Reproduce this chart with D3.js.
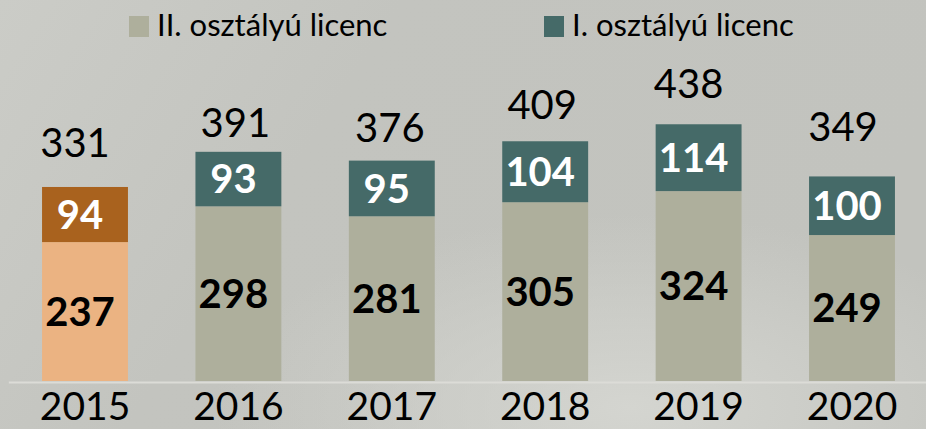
<!DOCTYPE html>
<html>
<head>
<meta charset="utf-8">
<script src="https://cdn.jsdelivr.net/npm/d3@7"></script>
<style>
  html, body { margin: 0; padding: 0; background: #c4c5c0; }
  svg { display: block; }
  text { font-family: Lato, "Open Sans", sans-serif; }
</style>
</head>
<body>
<svg id="chart" width="926" height="429"></svg>
<script>
// adatok
const years = ['2015', '2016', '2017', '2018', '2019', '2020'];
const class2 = [237, 298, 281, 305, 324, 249]; // II. osztályú licenc
const class1 = [94, 93, 95, 104, 114, 100];    // I. osztályú licenc
const totals = [331, 391, 376, 409, 438, 349];
const seriesNames = ['II. osztályú licenc', 'I. osztályú licenc'];

// a feliratok kézi eltolása (mint az eredeti diában)
const totalNudge = [[-10, 30], [-3, 15], [-2, 19], [-3, 22], [-10, 26], [-9, 35]];

const colors = { class2: '#aeaf9c', class1: '#456a68', hl2: '#ebb382', hl1: '#a9621e' };

const width = 926, height = 429;
const svg = d3.select('#chart');

// háttér
const defs = svg.append('defs');
const lin = defs.append('linearGradient').attr('id', 'bg').attr('x1', 0).attr('y1', 0).attr('x2', 1).attr('y2', 0.3);
lin.append('stop').attr('offset', '0%').attr('stop-color', '#cbccc7');
lin.append('stop').attr('offset', '40%').attr('stop-color', '#c3c4bf');
lin.append('stop').attr('offset', '100%').attr('stop-color', '#c2c3be');
const rad = defs.append('radialGradient').attr('id', 'glow')
  .attr('cx', 0.68).attr('cy', 0.95).attr('r', 0.45);
rad.append('stop').attr('offset', '0%').attr('stop-color', '#d6d7d2').attr('stop-opacity', 0.9);
rad.append('stop').attr('offset', '100%').attr('stop-color', '#d6d7d2').attr('stop-opacity', 0);
svg.append('rect').attr('width', width).attr('height', height).attr('fill', 'url(#bg)');
svg.append('rect').attr('width', width).attr('height', height).attr('fill', 'url(#glow)');

const x = d3.scaleBand().domain(years).range([8.3, 928.7]).paddingInner(0.44).paddingOuter(0.22);
const y = d3.scaleLinear().domain([0, 650]).range([381, 0]);

const rows = years.map((yr, i) => ({ year: yr, i, c2: class2[i], c1: class1[i], total: totals[i] }));

// oszlopok
const g = svg.append('g');
g.selectAll('rect.c2').data(rows).enter().append('rect')
  .attr('x', d => x(d.year))
  .attr('width', x.bandwidth())
  .attr('y', d => y(d.c2))
  .attr('height', d => y(0) - y(d.c2))
  .attr('fill', d => d.i === 0 ? colors.hl2 : colors.class2);

g.selectAll('rect.c1').data(rows).enter().append('rect')
  .attr('x', d => x(d.year))
  .attr('width', x.bandwidth())
  .attr('y', d => y(d.c2 + d.c1))
  .attr('height', d => y(d.c2) - y(d.c2 + d.c1))
  .attr('fill', d => d.i === 0 ? colors.hl1 : colors.class1);

// x tengely
const axis = svg.append('g').attr('transform', 'translate(0,382)')
  .call(d3.axisBottom(x).tickSize(0).tickSizeOuter(0));
axis.select('.domain').attr('stroke', '#dcdcd7').attr('stroke-width', 2);
axis.selectAll('text')
  .attr('y', 38).attr('dy', 0)
  .attr('font-size', 39).attr('fill', '#000')
  .style('font-family', 'Lato, sans-serif');

// szegmens feliratok
g.selectAll('text.v2').data(rows).enter().append('text')
  .attr('x', d => x(d.year) + x.bandwidth() / 2 - 5)
  .attr('y', d => (y(0) + y(d.c2)) / 2)
  .attr('dy', '0.36em')
  .attr('text-anchor', 'middle')
  .attr('font-size', 40).attr('font-weight', 'bold').attr('fill', '#000')
  .text(d => d.c2);

g.selectAll('text.v1').data(rows).enter().append('text')
  .attr('x', d => x(d.year) + x.bandwidth() / 2 - 5)
  .attr('y', d => (y(d.c2) + y(d.c2 + d.c1)) / 2)
  .attr('dy', '0.36em')
  .attr('text-anchor', 'middle')
  .attr('font-size', 40).attr('font-weight', 'bold').attr('fill', '#fff')
  .text(d => d.c1);

// összesen
g.selectAll('text.tot').data(rows).enter().append('text')
  .attr('x', d => x(d.year) + x.bandwidth() / 2 + totalNudge[d.i][0])
  .attr('y', d => y(d.c2 + d.c1) - totalNudge[d.i][1])
  .attr('text-anchor', 'middle')
  .attr('font-size', 40).attr('fill', '#000')
  .text(d => d.total);

// jelmagyarázat
const legendX = [129, 544];
const legendColors = [colors.class2, colors.class1];
const lg = svg.append('g');
seriesNames.forEach((name, i) => {
  lg.append('rect').attr('x', legendX[i]).attr('y', 16).attr('width', 20).attr('height', 21)
    .attr('fill', legendColors[i]);
  lg.append('text').attr('x', legendX[i] + 28).attr('y', 36)
    .attr('font-size', 31).attr('fill', '#000')
    .text(name);
});
</script>
</body>
</html>
